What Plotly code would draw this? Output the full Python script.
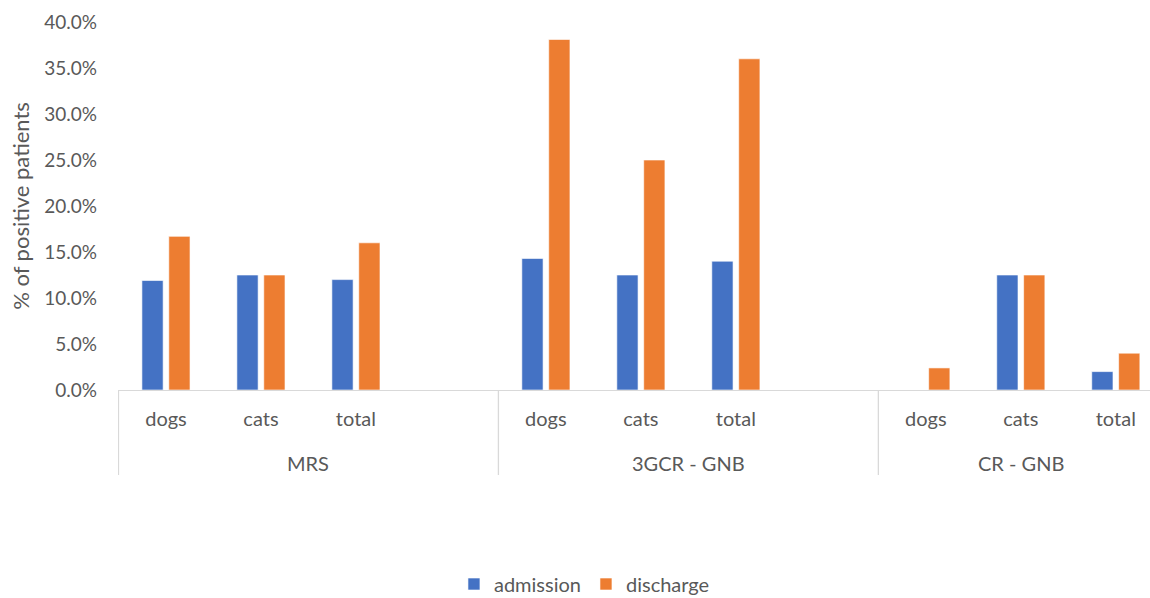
import plotly.graph_objects as go

groups = ["MRS", "3GCR - GNB", "CR - GNB"]
subcats = ["dogs", "cats", "total"]
admission = [11.9, 12.5, 12.0, 14.3, 12.5, 14.0, 0.0, 12.5, 2.0]
discharge = [16.7, 12.5, 16.0, 38.1, 25.0, 36.0, 2.4, 12.5, 4.0]
y_ticks = [0, 5, 10, 15, 20, 25, 30, 35, 40]

# slot positions: 3 categories per group + one empty slot between groups
xpos, xlab = [], []
slot = 0
group_centers, dividers = [], [-0.5]
for gi, g in enumerate(groups):
    start = slot
    for s in subcats:
        xpos.append(slot)
        xlab.append(s)
        slot += 1
    if gi < len(groups) - 1:
        slot += 1  # empty slot
        group_centers.append((start + slot - 1) / 2)
        dividers.append(slot - 0.5)
    else:
        group_centers.append((start + slot - 1) / 2)

BLUE = "#4472C4"
ORANGE = "#ED7D31"
FONT = "Lato"
GREY = "#595959"

fig = go.Figure()
fig.add_bar(x=xpos, y=admission, name="admission", marker_color=BLUE,
            marker_line=dict(color="rgba(255,255,255,0.6)", width=1))
fig.add_bar(x=xpos, y=discharge, name="discharge", marker_color=ORANGE,
            marker_line=dict(color="rgba(255,255,255,0.6)", width=1))

plot_h = 368
for d in dividers:
    fig.add_shape(type="line", xref="x", yref="paper", x0=d, x1=d,
                  y0=0, y1=-85 / plot_h, line=dict(color="#D9D9D9", width=1.3))
for gc, g in zip(group_centers, groups):
    fig.add_annotation(x=gc, xref="x", y=-73 / plot_h, yref="paper", text=g,
                       showarrow=False, yanchor="middle",
                       font=dict(family=FONT, size=20, color=GREY))

fig.update_layout(
    width=1150, height=598,
    margin=dict(l=118, r=0, t=22, b=208, autoexpand=False),
    plot_bgcolor="white", paper_bgcolor="white",
    barmode="group", bargap=0.434, bargroupgap=0.21,
    font=dict(family=FONT, color=GREY),
    showlegend=True,
    legend=dict(orientation="h", xref="paper", yref="paper",
                x=0.452, xanchor="center", y=-194 / plot_h, yanchor="middle",
                font=dict(family=FONT, size=20, color=GREY),
                itemwidth=30, traceorder="normal"),
)
fig.update_xaxes(range=[-0.505, 10.36], tickvals=xpos, ticktext=xlab,
                 showline=True, linecolor="#D9D9D9", linewidth=1.3,
                 showgrid=False, zeroline=False, ticks="",
                 ticklabelstandoff=11,
                 tickfont=dict(family=FONT, size=20, color=GREY))
fig.update_yaxes(range=[0, 40], tickvals=y_ticks,
                 ticktext=[f"{v:.1f}%" for v in y_ticks],
                 showgrid=False, zeroline=False, showline=False,
                 ticklabelstandoff=20,
                 tickfont=dict(family=FONT, size=19, color=GREY),
                 title=dict(text="% of positive patients", standoff=8,
                            font=dict(family=FONT, size=22, color=GREY)))

fig.write_html("out.html")
